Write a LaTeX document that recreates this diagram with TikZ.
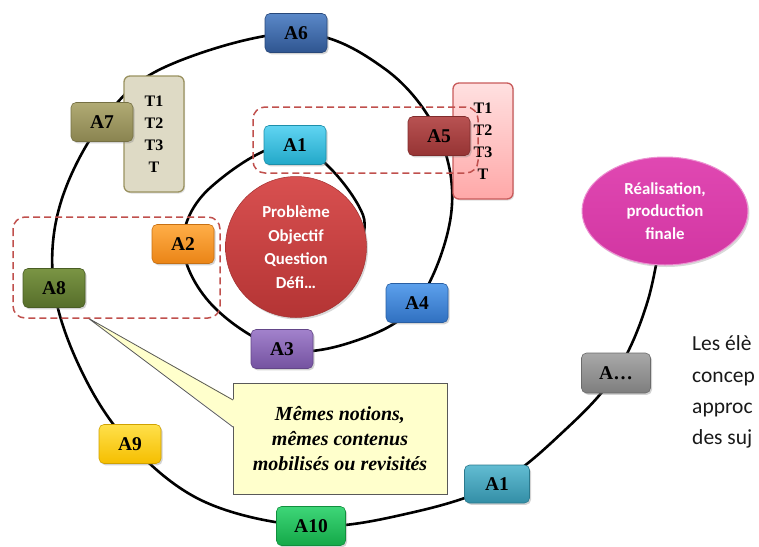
\documentclass[tikz,border=0pt]{standalone}
\usepackage{fontspec}
\setmainfont{Liberation Serif}
\newfontfamily\calfont{Carlito}
\usetikzlibrary{shadows,shapes.geometric}
\pgfdeclarelayer{bg}
\pgfsetlayers{bg,main}
\definecolor{cA6t}{HTML}{5A88C8}\definecolor{cA6b}{HTML}{2F5590}
\definecolor{cA7t}{HTML}{B0AA74}\definecolor{cA7b}{HTML}{8A8450}
\definecolor{cA1t}{HTML}{60D4F2}\definecolor{cA1b}{HTML}{22A8C8}
\definecolor{cA2t}{HTML}{FFAE48}\definecolor{cA2b}{HTML}{EA8416}
\definecolor{cA8t}{HTML}{7A9444}\definecolor{cA8b}{HTML}{566E2A}
\definecolor{cA3t}{HTML}{A282CC}\definecolor{cA3b}{HTML}{7452A0}
\definecolor{cA9t}{HTML}{FFE04A}\definecolor{cA9b}{HTML}{F5BE00}
\definecolor{cA10t}{HTML}{3ED678}\definecolor{cA10b}{HTML}{14A848}
\definecolor{cA4t}{HTML}{5CA0EC}\definecolor{cA4b}{HTML}{3070C0}
\definecolor{cAot}{HTML}{62BCD2}\definecolor{cAob}{HTML}{338EA6}
\definecolor{cAxt}{HTML}{A8A8A8}\definecolor{cAxb}{HTML}{7E7E7E}
\definecolor{cA5t}{HTML}{B85252}\definecolor{cA5b}{HTML}{963434}
\definecolor{redt}{HTML}{D85050}\definecolor{redb}{HTML}{B43434}
\definecolor{magt}{HTML}{E048B2}\definecolor{magb}{HTML}{D236A2}
\definecolor{dashred}{HTML}{C0504D}
\definecolor{notefill}{HTML}{FFFFCC}
\definecolor{beige}{HTML}{DEDAC5}\definecolor{beigeb}{HTML}{9A9260}
\definecolor{pinkt}{HTML}{FFE0E0}\definecolor{pinkb}{HTML}{FFA8A8}\definecolor{pinkd}{HTML}{C85A5A}
\begin{document}
\begin{tikzpicture}[x=1pt,y=-1pt,
  abox/.style 2 args={rounded corners=5pt, minimum width=62pt, minimum height=39pt,
    inner sep=0pt, top color=#1, bottom color=#2, draw=#2!85!black, line width=0.6pt,
    drop shadow={shadow xshift=1.5pt, shadow yshift=-1.8pt, opacity=0.35},
    font=\fontsize{19.5}{22}\selectfont\bfseries, text=black},
  tbox/.style={rounded corners=6pt, minimum width=60pt, minimum height=116pt,
    inner sep=0pt, line width=1.3pt, align=center,
    drop shadow={shadow xshift=1.2pt, shadow yshift=-1.5pt, opacity=0.25},
    font=\fontsize{16}{22}\selectfont\bfseries},
  spiral/.style={line width=2.6pt, black},
  dashbox/.style={draw=dashred, line width=1.5pt, dash pattern=on 7pt off 4pt, rounded corners=12pt},
  sidetext/.style={anchor=base west, inner sep=0pt, font=\calfont\fontsize{21.5}{24}\selectfont, text=black!90}
]
\useasboundingbox (0,0) rectangle (759,546);
\clip (0,0) rectangle (759,546);

% T boxes
\node[tbox, fill=beige, draw=beigeb] (T7) at (154,134) {T1\\T2\\T3\\T};
\node[tbox, top color=pinkt, bottom color=pinkb, draw=pinkd] (T5) at (483,141) {T1\\T2\\T3\\T};

% central circle and final ellipse
\node[circle, minimum size=141pt, inner sep=0pt, top color=redt, bottom color=redb,
  draw=redb!90!black, line width=0.5pt,
  drop shadow={shadow xshift=1.5pt, shadow yshift=-2pt, opacity=0.3},
  align=center, text=white, font=\calfont\bfseries\fontsize{16.8}{23.5}\selectfont] (P) at (296,247)
  {Problème\\Objectif\\Question\\Défi…};
\node[ellipse, minimum width=166pt, minimum height=108pt, inner sep=0pt,
  top color=magt, bottom color=magb, draw=magt!60!white, line width=1pt,
  drop shadow={shadow xshift=1.5pt, shadow yshift=-2pt, opacity=0.3},
  align=center, text=white, font=\calfont\bfseries\fontsize{16.8}{22.5}\selectfont] (E) at (665,211)
  {Réalisation,\\production\\finale};

% activity boxes
\node[abox={cA1t}{cA1b}] (A1) at (295,145) {A1};
\node[abox={cA2t}{cA2b}] (A2) at (183,244) {A2};
\node[abox={cA3t}{cA3b}] (A3) at (282,349) {A3};
\node[abox={cA4t}{cA4b}] (A4) at (417,303) {A4};
\node[abox={cA5t}{cA5b}] (A5) at (439,136) {A5};
\node[abox={cA6t}{cA6b}] (A6) at (296,33) {A6};
\node[abox={cA7t}{cA7b}] (A7) at (102,122) {A7};
\node[abox={cA8t}{cA8b}] (A8) at (54,288) {A8};
\node[abox={cA9t}{cA9b}] (A9) at (130,444) {A9};
\node[abox={cA10t}{cA10b}, minimum width=69pt] (A10) at (311,526) {A10};
\node[abox={cAot}{cAob}, minimum width=65pt, minimum height=38pt] (A1o) at (497,484) {A1};
\node[abox={cAxt}{cAxb}, minimum width=69pt, minimum height=40pt] (Ax) at (616,373) {A…};

% spiral
\coordinate (s0) at (345,275);
\coordinate (s1) at (363,215);
\coordinate (s2) at (211,187);
\coordinate (s3) at (212,305);
\coordinate (s4) at (355,341);
\coordinate (s5) at (451,215);
\coordinate (s6) at (385,69);
\coordinate (s7) at (165,67);
\coordinate (s8) at (60,205);
\coordinate (s9) at (82,372);
\coordinate (s10) at (205,502);
\coordinate (s11) at (410,513);
\coordinate (s12) at (565,430);
\coordinate (s13) at (648,300);
\begin{pgfonlayer}{bg}
\draw[spiral] plot[smooth, tension=0.6] coordinates {(s0) (s1) (A1.center) (s2) (A2.center) (s3) (A3.center) (s4) (A4.center) (s5) (A5.center) (s6) (A6.center) (s7) (A7.center) (s8) (A8.center) (s9) (A9.center) (s10) (A10.center) (s11) (A1o.center) (s12) (Ax.center) (s13) (E.center)};
\end{pgfonlayer}

% callout
\coordinate (tip) at (88,318);
\node[draw=black!65, fill=notefill, line width=0.8pt, minimum width=214pt, minimum height=111pt,
  inner sep=0pt, align=center, font=\fontsize{20}{25}\selectfont\bfseries\itshape] (note) at (340,438.5)
  {Mêmes notions,\\mêmes contenus\\mobilisés ou revisités};
\coordinate (b1) at (233,400);
\coordinate (b2) at (233,427);
\fill[notefill] (tip) -- ([xshift=1.5pt]b1) -- ([xshift=1.5pt]b2) -- cycle;
\draw[black!65, line width=0.8pt] (b1) -- (tip) -- (b2);

% dashed groupings
\draw[dashbox] (253,107) rectangle (478,173);
\draw[dashbox] (13,217) rectangle (220,318);

% side text
\node[sidetext] (L1) at (692,350) {Les élè};
\node[sidetext] (L2) at (692,382) {concep};
\node[sidetext] (L3) at (692,413) {approc};
\node[sidetext] (L4) at (692,444) {des suj};
\end{tikzpicture}
\end{document}
